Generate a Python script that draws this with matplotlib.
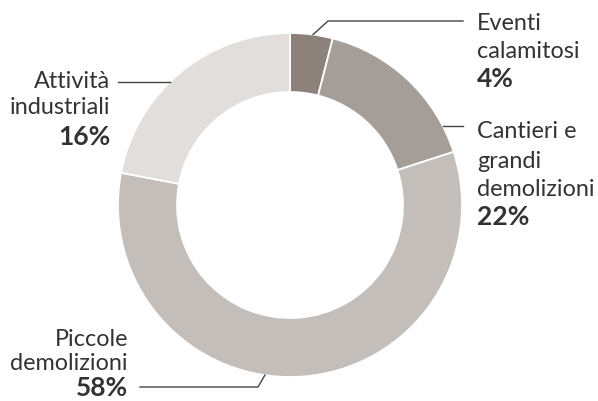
import matplotlib
matplotlib.use("Agg")
import matplotlib.pyplot as plt
import numpy as np

# Data (slice sizes as drawn, and the printed labels)
categories = ["Eventi calamitosi", "Cantieri e grandi demolizioni", "Piccole demolizioni", "Attività industriali"]
values = [4, 16, 58, 22]
label_lines = [["Eventi", "calamitosi"], ["Cantieri e", "grandi", "demolizioni"], ["Piccole", "demolizioni"], ["Attività", "industriali"]]
pct_labels = ["4%", "22%", "58%", "16%"]
colors = ["#8c827b", "#a59e98", "#c3beba", "#e1dedc"]

W, H = 598, 401
fig = plt.figure(figsize=(W / 100, H / 100), dpi=100)
ax = fig.add_axes([0, 0, 1, 1])

cx, cy = 290, H - 205
R = 172
ring = 59

ax.pie(values, colors=colors, startangle=90, counterclock=False,
       center=(cx, cy), radius=R, frame=True,
       wedgeprops=dict(width=ring, edgecolor="white", linewidth=1.3))
ax.set_xlim(0, W)
ax.set_ylim(0, H)
ax.set_aspect("equal")
ax.axis("off")

txt = "#333333"
lc = "#444444"
fam = ["Lato", "DejaVu Sans"]
fs = 16.8
fsb = 19

def pt(angle_deg):
    a = np.deg2rad(90 - angle_deg)
    return cx + R * np.cos(a), cy + R * np.sin(a)

def label(x, ys, lines, pct, ha):
    for y, s in zip(ys[:-1], lines):
        ax.text(x, H - y, s, fontsize=fs, family=fam, color=txt, va="center", ha=ha)
    ax.text(x, H - ys[-1], pct, fontsize=fsb, family=fam, color=txt, va="center", ha=ha, weight="bold")

# Eventi calamitosi
x0, y0 = pt(7.7)
ax.plot([x0, 328, 463], [y0, H - 21, H - 21], color=lc, lw=1)
label(477, [24, 51, 79], label_lines[0], pct_labels[0], "left")

# Cantieri e grandi demolizioni
x0, y0 = pt(62.7)
ax.plot([x0, 463], [y0, y0], color=lc, lw=1)
label(477, [132, 161, 189, 217], label_lines[1], pct_labels[1], "left")

# Piccole demolizioni
x0, y0 = pt(188.4)
ax.plot([x0, 258, 140], [y0, H - 387, H - 387], color=lc, lw=1)
label(128, [339, 364, 388], label_lines[2], pct_labels[2], "right")

# Attività industriali
x0, y0 = pt(315.7)
ax.plot([x0, 118], [y0, y0], color=lc, lw=1)
label(110, [81, 108, 137], label_lines[3], pct_labels[3], "right")

fig.savefig("out.png", dpi=100, facecolor="white")
